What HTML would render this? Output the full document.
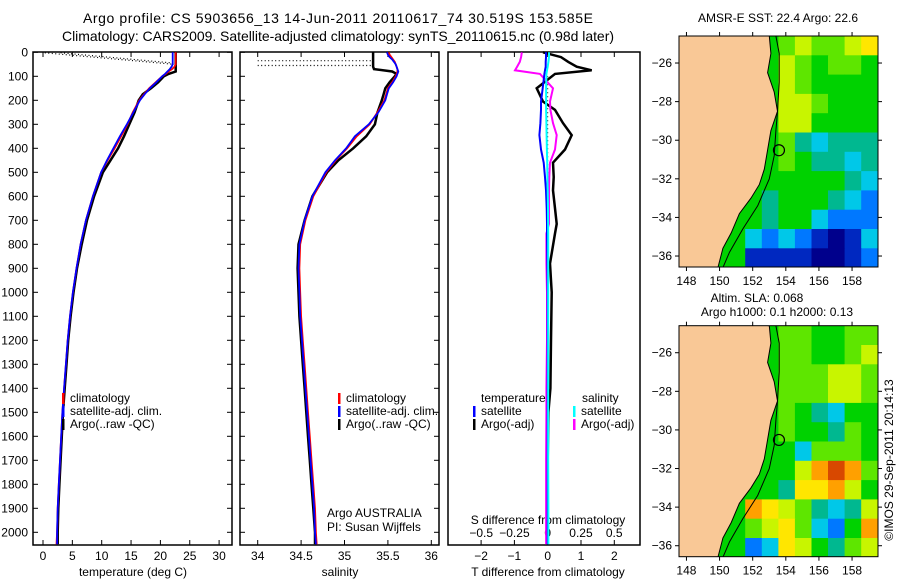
<!DOCTYPE html>
<html><head><meta charset="utf-8"><style>
body{margin:0;background:#fff}
svg{display:block;font-family:"Liberation Sans",sans-serif}
text{fill:#000}
</style></head><body>
<svg id="fig" width="900" height="580" viewBox="0 0 900 580" xmlns="http://www.w3.org/2000/svg">
<rect width="900" height="580" fill="#fff"/>
<text x="338" y="23" font-size="14" text-anchor="middle" textLength="510">Argo profile: CS 5903656_13 14-Jun-2011 20110617_74 30.519S 153.585E</text>
<text x="338" y="41" font-size="14" text-anchor="middle" textLength="552">Climatology: CARS2009. Satellite-adjusted climatology: synTS_20110615.nc (0.98d later)</text>
<g id="g1"></g>
<g id="g2"></g>
<g id="g3"></g>
<g id="m1"></g>
<g id="m2"></g>
<text x="893" y="460" font-size="12" text-anchor="middle" transform="rotate(-90 893 460)">©IMOS 29-Sep-2011 20:14:13</text>
</svg>
<script>
// ---- profile data ----
const depths = [0,10,20,30,40,50,60,70,80,90,100,125,150,175,200,250,300,350,400,450,500,600,700,800,900,1000,1100,1200,1300,1400,1500,1600,1700,1800,1900,2000,2050];
const climT = [22.6,22.6,22.6,22.6,22.6,22.6,22.4,22.0,21.4,20.9,20.3,19.2,18.1,17.2,16.4,15.3,14.4,13.3,12.2,11.0,9.9,8.5,7.3,6.4,5.7,5.1,4.6,4.2,3.9,3.6,3.3,3.1,2.9,2.7,2.5,2.4,2.3];
const satT = [22.1,22.1,22.1,22.1,22.1,22.1,21.9,21.6,21.2,20.8,20.3,19.3,18.2,17.3,16.5,15.4,14.3,13.1,12.0,10.9,9.9,8.5,7.3,6.4,5.7,5.1,4.6,4.2,3.9,3.6,3.3,3.1,2.9,2.7,2.5,2.4,2.4];
const argoT = [22.6,22.6,22.6,22.6,22.6,22.6,22.6,22.6,22.6,21.4,20.6,19.6,18.4,17.0,16.3,15.6,14.7,13.8,12.8,11.5,10.2,8.7,7.5,6.6,5.8,5.2,4.7,4.3,4.0,3.7,3.4,3.2,3.0,2.8,2.6,2.5,2.5];
const climS = [35.51,35.52,35.54,35.56,35.58,35.59,35.6,35.61,35.61,35.6,35.59,35.55,35.5,35.48,35.46,35.38,35.29,35.14,35.03,34.9,34.79,34.64,34.55,34.49,34.48,34.49,34.5,34.52,34.54,34.56,34.58,34.6,34.62,34.64,34.66,34.67,34.68];
const satS = [35.49,35.5,35.52,35.55,35.57,35.59,35.6,35.61,35.62,35.61,35.6,35.56,35.51,35.49,35.47,35.39,35.28,35.12,35.02,34.89,34.78,34.63,34.54,34.48,34.47,34.48,34.49,34.51,34.53,34.55,34.57,34.59,34.61,34.63,34.65,34.66,34.67];
const argoS = [35.33,35.33,35.33,35.33,35.33,35.33,35.33,35.34,35.55,35.6,35.58,35.52,35.47,35.45,35.43,35.38,35.35,35.25,35.1,34.93,34.8,34.63,34.54,34.47,34.46,34.47,34.48,34.5,34.52,34.54,34.56,34.58,34.6,34.62,34.64,34.66,34.66];
const dotT = [0.3,22.3];
const dotTd = [2,50];
const dotT2 = [3,22.3];
const dotTd2 = [2,45];
const dotS = [34.0,35.33];
const dotSd = [35,35];
const dotSd2 = [55,55];
// ---- difference data ----
const diffD = [0,20,40,60,75,90,150,205,240,295,345,405,460,520,575,650,715,755,880,1000,1200,1400,1500,1700,1900,2050];
const argoTd = [-0.14,0.4,0.62,0.87,1.32,0.22,-0.33,-0.14,0.22,0.46,0.72,0.52,0.16,0.18,0.16,0.22,0.27,0.22,0.07,0.12,0.1,0.08,0.02,0,0,0];
const satTd = [-0.05,-0.05,-0.06,-0.06,-0.08,-0.1,-0.15,-0.2,-0.2,-0.22,-0.25,-0.2,-0.12,-0.08,-0.05,-0.03,-0.02,-0.02,-0.01,0,0,0,0,0,0,0];
const argoSd = [-0.195,-0.2,-0.21,-0.23,-0.246,-0.058,0.04,0.017,0.02,0.04,0.068,0.055,0.017,0.012,0.01,0.01,0.01,-0.01,-0.01,-0.005,-0.005,-0.01,-0.01,-0.012,-0.012,-0.012];
const satSd = [0.01,0.01,0.005,0.0,-0.005,-0.01,-0.012,-0.012,-0.012,-0.01,-0.008,-0.006,-0.004,-0.002,0,0.002,0.003,0.004,0.004,0.004,0.004,0.004,0.004,0.004,0.005,0.005];
// ---- map data (1-degree cells, rows north->south from -24.6, cols from 147.55E) ----
const sstGrid = [
[5,5,5,5,5,5,6,7,6,6,7,8],[5,5,5,5,5,5,7,6,5,6,6,5],[5,5,5,5,5,5,7,6,5,5,5,5],[5,5,5,5,5,5,7,7,6,5,5,5],
[5,5,5,5,5,5,7,7,5,5,5,5],[5,5,5,5,5,5,6,4,3,4,4,4],[5,5,5,5,5,5,6,5,4,4,3,4],[5,5,5,5,5,5,5,5,5,5,4,3],
[5,5,5,5,5,4,5,5,5,4,3,2],[5,5,5,5,5,4,5,5,3,2,2,2],[5,5,5,5,3,2,3,2,1,0,1,3],[5,5,5,5,1,1,1,1,0,0,1,2]];
const slaGrid = [
[5,5,5,5,5,5,6,6,5,5,6,6],[5,5,5,5,5,5,6,6,5,5,6,7],[5,5,5,5,5,5,6,6,6,7,7,6],[5,5,5,5,5,5,6,6,6,7,7,6],
[5,5,5,5,5,5,6,5,4,3,5,5],[5,5,5,5,5,5,6,5,5,4,6,5],[5,5,5,5,5,5,5,3,6,6,6,5],[5,5,5,5,5,5,5,7,9,10,9,6],
[5,5,5,5,5,5,4,8,8,9,7,5],[5,5,5,5,9,8,7,6,4,3,4,7],[5,5,5,5,6,7,8,6,3,2,5,9],[5,5,5,5,2,3,8,7,5,4,6,7]];
const coastLon = [153.0,153.1,152.9,153.3,153.5,153.1,152.9,152.7,152.4,151.9,151.2,150.7,150.2,149.9];
const coastLat = [-24.6,-25.5,-26.5,-27.5,-28.5,-29.5,-30.5,-31.5,-32.3,-33.0,-33.8,-34.8,-35.6,-36.6];
const shelfLon = [153.4,153.6,153.6,153.5,153.4,153.3,153.0,152.3,151.4,150.6,150.2];
const shelfLat = [-24.6,-25.5,-27.0,-28.5,-29.5,-30.8,-32.0,-33.4,-34.6,-35.8,-36.6];
const floatLon = 153.585, floatLat = -30.519;
const depthTicks = [0,100,200,300,400,500,600,700,800,900,1000,1100,1200,1300,1400,1500,1600,1700,1800,1900,2000];
const tTicks = [0,5,10,15,20,25,30];
const sTicks = [34,34.5,35,35.5,36];
const tdTicks = [-2,-1,0,1,2];
const sdTicks = [-0.5,-0.25,0,0.25,0.5];
const lonTicks = [148,150,152,154,156,158];
const latTicks = [-26,-28,-30,-32,-34,-36];

const NS='http://www.w3.org/2000/svg';
function mk(parent,tag,attrs,txt){const e=document.createElementNS(NS,tag);for(const k in attrs)e.setAttribute(k,attrs[k]);if(txt!==undefined)e.textContent=txt;parent.appendChild(e);return e;}
const yD = d => 52.3 + d*0.24;
const xT = v => 43 + v*5.87;
const xS = v => 257.7 + (v-34)*86.8;
const xTd = v => 547.7 + v*33.3;
const xSd = v => 547.7 + v*133;
const TOP=52, BOT=545;

function frame(g,x0,x1,name){
  const r=mk(g,'rect',{x:x0,y:TOP,width:x1-x0,height:BOT-TOP,fill:'none',stroke:'#000','stroke-width':1.5});
  
  
  depthTicks.forEach(d=>{
    mk(g,'line',{x1:x0,x2:x0+5,y1:yD(d),y2:yD(d),stroke:'#000'});
    mk(g,'line',{x1:x1,x2:x1-5,y1:yD(d),y2:yD(d),stroke:'#000'});
  });
}
function line(g,xs,ds,fx,color,w,name,dash){
  let p='';xs.forEach((v,i)=>{p+=(i?'L':'M')+fx(v).toFixed(1)+','+Math.min(yD(ds[i]),BOT).toFixed(1);});
  const e=mk(g,'path',{d:p,fill:'none',stroke:color,'stroke-width':w});
  if(dash)e.setAttribute('stroke-dasharray',dash);
  
  
}
function legend(g,x,y,items){
  items.forEach((it,i)=>{
    mk(g,'rect',{x:x,y:y+i*13-9,width:2.5,height:11,fill:it[0]});
    const t=mk(g,'text',{x:x+8,y:y+i*13,'font-size':12},it[1]);
    
    
  });
}
// Panel 1
const g1=document.getElementById('g1');
frame(g1,33,232,'temperature-axes');
depthTicks.forEach(d=>{const t=mk(g1,'text',{x:28,y:yD(d)+4,'font-size':12,'text-anchor':'end'},d);});
tTicks.forEach(v=>{mk(g1,'line',{x1:xT(v),x2:xT(v),y1:TOP,y2:TOP+5,stroke:'#000'});mk(g1,'line',{x1:xT(v),x2:xT(v),y1:BOT,y2:BOT-5,stroke:'#000'});
  const t=mk(g1,'text',{x:xT(v),y:560,'font-size':12,'text-anchor':'middle'},v);});
mk(g1,'text',{x:133,y:576,'font-size':12,'text-anchor':'middle'},'temperature (deg C)');
line(g1,dotT,dotTd,xT,'#000',1.2,'surface-dotted-line','1 2.5');
line(g1,dotT2,dotTd2,xT,'#000',1.2,'surface-dotted-line-2','1 2.5');
line(g1,argoT,depths,xT,'#000',2.5,'argo-temperature-line');
line(g1,climT,depths,xT,'#f00',1.8,'climatology-temperature-line');
line(g1,satT,depths,xT,'#00f',1.8,'satellite-temperature-line');
legend(g1,62,402,[['#f00','climatology'],['#00f','satellite-adj. clim.'],['#000','Argo(..raw -QC)']]);
// Panel 2
const g2=document.getElementById('g2');
frame(g2,240,439,'salinity-axes');
sTicks.forEach(v=>{mk(g2,'line',{x1:xS(v),x2:xS(v),y1:TOP,y2:TOP+5,stroke:'#000'});mk(g2,'line',{x1:xS(v),x2:xS(v),y1:BOT,y2:BOT-5,stroke:'#000'});
  const t=mk(g2,'text',{x:xS(v),y:560,'font-size':12,'text-anchor':'middle'},v);});
mk(g2,'text',{x:340,y:576,'font-size':12,'text-anchor':'middle'},'salinity');
line(g2,dotS,dotSd,xS,'#000',1.2,'surface-dotted-line','1 2.5');
line(g2,dotS,dotSd2,xS,'#000',1.2,'surface-dotted-line-2','1 2.5');
line(g2,argoS,depths,xS,'#000',2.5,'argo-salinity-line');
line(g2,climS,depths,xS,'#f00',1.8,'climatology-salinity-line');
line(g2,satS,depths,xS,'#00f',1.8,'satellite-salinity-line');
legend(g2,338,402,[['#f00','climatology'],['#00f','satellite-adj. clim.'],['#000','Argo(..raw -QC)']]);
mk(g2,'text',{x:327,y:517,'font-size':12},'Argo AUSTRALIA');
mk(g2,'text',{x:327,y:531,'font-size':12},'PI: Susan Wijffels');
// Panel 3
const g3=document.getElementById('g3');
const r3=mk(g3,'rect',{x:448,y:TOP,width:192,height:BOT-TOP,fill:'none',stroke:'#000','stroke-width':1.5});


tdTicks.forEach(v=>{mk(g3,'line',{x1:xTd(v),x2:xTd(v),y1:TOP,y2:TOP+5,stroke:'#000'});mk(g3,'line',{x1:xTd(v),x2:xTd(v),y1:BOT,y2:BOT-5,stroke:'#000'});
  const t=mk(g3,'text',{x:xTd(v),y:560,'font-size':12,'text-anchor':'middle'},v===0?'0':String(v).replace('-','−'));});
sdTicks.forEach(v=>{const t=mk(g3,'text',{x:xSd(v),y:537,'font-size':12,'text-anchor':'middle'},v===0?'0':String(v).replace('-','−'));});
mk(g3,'text',{x:548,y:524,'font-size':12,'text-anchor':'middle'},'S difference from climatology');
mk(g3,'text',{x:548,y:576,'font-size':12,'text-anchor':'middle'},'T difference from climatology');
line(g3,[0,0],[100,1000],xTd,'#000',1,'zero-dotted-line','1 3');
line(g3,argoTd,diffD,xTd,'#000',2.5,'argo-temperature-diff-line');
line(g3,argoSd,diffD,xSd,'#f0f',2,'argo-salinity-diff-line');
line(g3,satTd,diffD,xTd,'#00f',2,'satellite-temperature-diff-line');
line(g3,satSd,diffD,xSd,'#0ff',2,'satellite-salinity-diff-line');
mk(g3,'text',{x:481,y:402,'font-size':12},'temperature');
mk(g3,'text',{x:582,y:402,'font-size':12},'salinity');
legend(g3,473,415,[['#00f','satellite'],['#000','Argo(-adj)']]);
legend(g3,573,415,[['#0ff','satellite'],['#f0f','Argo(-adj)']]);
// Maps
const cmap=['#00008c','#0028c0','#0078ff','#00c8e8','#00b890','#00d200','#5ee600','#c8f500','#ffe600','#ffa000','#d84800'];
function drawMap(gid,top,grid,name){
  const g=document.getElementById(gid);
  const X=lon=>679+(lon-147.55)*16.56, Y=lat=>top+(-24.6-lat)*19.3;
  const clip=mk(g,'clipPath',{id:'clip'+gid});
  mk(clip,'rect',{x:679,y:top,width:199,height:231});
  const inner=mk(g,'g',{'clip-path':'url(#clip'+gid+')'});
  grid.forEach((row,r)=>row.forEach((v,c)=>{
    const cell=mk(inner,'rect',{x:X(147.55+c).toFixed(1),y:Y(-24.6-r).toFixed(1),width:17.1,height:19.8,fill:cmap[v]});
    
    
  }));
  let p='M'+X(147)+','+Y(-24);
  coastLon.forEach((lo,i)=>{p+='L'+X(lo).toFixed(1)+','+Y(coastLat[i]).toFixed(1);});
  p+='L'+X(147)+','+Y(-37)+'Z';
  const land=mk(inner,'path',{d:p,fill:'#f9c896',stroke:'#000','stroke-width':1});
  
  
  let s='';shelfLon.forEach((lo,i)=>{s+=(i?'L':'M')+X(lo).toFixed(1)+','+Y(shelfLat[i]).toFixed(1);});
  mk(inner,'path',{d:s,fill:'none',stroke:'#000','stroke-width':1});
  const c=mk(inner,'circle',{cx:X(floatLon),cy:Y(floatLat),r:5.5,fill:'none',stroke:'#000','stroke-width':1.2});
  
  
  const fr=mk(g,'rect',{x:679,y:top,width:199,height:231,fill:'none',stroke:'#000','stroke-width':1});
  
  
  lonTicks.forEach(v=>{mk(g,'line',{x1:X(v),x2:X(v),y1:top,y2:top-4,stroke:'#000'});mk(g,'line',{x1:X(v),x2:X(v),y1:top+231,y2:top+235,stroke:'#000'});
    const t=mk(g,'text',{x:X(v),y:top+249,'font-size':12,'text-anchor':'middle'},v);});
  latTicks.forEach(v=>{mk(g,'line',{x1:679,x2:675,y1:Y(v),y2:Y(v),stroke:'#000'});mk(g,'line',{x1:878,x2:882,y1:Y(v),y2:Y(v),stroke:'#000'});
    const t=mk(g,'text',{x:672,y:Y(v)+4,'font-size':12,'text-anchor':'end'},String(v).replace('-','−'));});
}
drawMap('m1',36,sstGrid,'sst-map');
drawMap('m2',325.7,slaGrid,'sla-map');
const m1=document.getElementById('m1'),m2=document.getElementById('m2');
mk(m1,'text',{x:778,y:22,'font-size':12,'text-anchor':'middle'},'AMSR-E SST: 22.4 Argo: 22.6');
mk(m2,'text',{x:757,y:302,'font-size':12,'text-anchor':'middle'},'Altim. SLA: 0.068');
mk(m2,'text',{x:777,y:316,'font-size':12,'text-anchor':'middle'},'Argo h1000: 0.1 h2000: 0.13');
</script>
</body></html>
